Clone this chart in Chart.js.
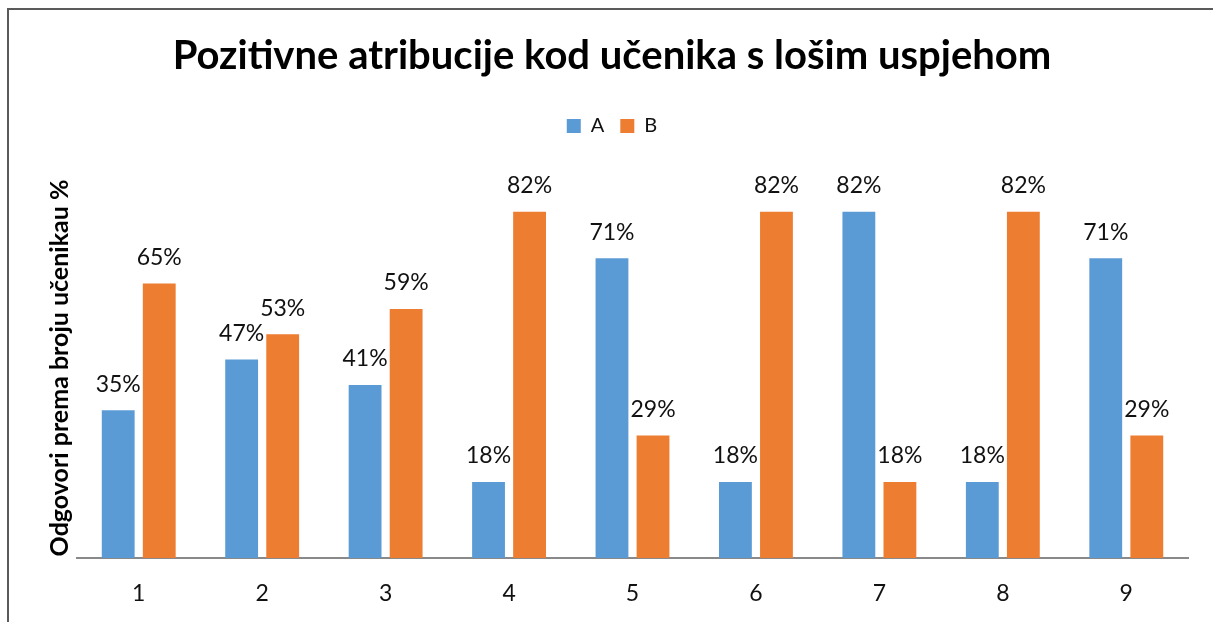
<!DOCTYPE html>
<html>
<head>
<meta charset="utf-8">
<script src="https://cdn.jsdelivr.net/npm/chart.js@4.4.1/dist/chart.umd.min.js"></script>
<style>
  html, body { margin: 0; padding: 0; background: #fff; overflow: hidden; }
  #wrap { position: absolute; left: 0; top: 0; width: 1213px; height: 622px; }
  #frame { position: absolute; left: 7px; top: 8px; width: 1300px; height: 700px; border: 2px solid #5a5a5a; box-sizing: border-box; pointer-events: none; }
</style>
</head>
<body>
<div id="wrap"><canvas id="chart" width="1213" height="622"></canvas></div>
<div id="frame"></div>
<script>
// data
const categories = ['1', '2', '3', '4', '5', '6', '7', '8', '9'];
const seriesA = [35, 47, 41, 18, 71, 18, 82, 18, 71];
const seriesB = [65, 53, 59, 82, 29, 82, 18, 82, 29];
const seriesNames = ['A', 'B'];

const FONT = 'Lato, "Open Sans", sans-serif';

// value labels above the bars
const barLabels = {
    id: 'barLabels',
    afterDatasetsDraw(chart) {
        const ctx = chart.ctx;
        ctx.save();
        ctx.font = '23px ' + FONT;
        ctx.fillStyle = '#111';
        ctx.textAlign = 'center';
        ctx.textBaseline = 'middle';
        chart.data.datasets.forEach((ds, i) => {
            chart.getDatasetMeta(i).data.forEach((bar, j) => {
                ctx.fillText(ds.data[j] + '%', bar.x, bar.y - 26);
            });
        });
        ctx.restore();
    }
};

// extra space between the legend and the plot
const legendGap = {
    id: 'legendGap',
    beforeLayout(chart) {
        const legend = chart.legend;
        if (legend && !legend._gapPatched) {
            const fit = legend.fit;
            legend.fit = function () {
                fit.call(this);
                this.height += 32;
            };
            legend._gapPatched = true;
        }
    }
};

new Chart(document.getElementById('chart').getContext('2d'), {
    type: 'bar',
    data: {
        labels: categories,
        datasets: [{
            label: seriesNames[0],
            data: seriesA,
            backgroundColor: '#5B9BD5',
            barPercentage: 0.8,
            categoryPercentage: 0.665
        }, {
            label: seriesNames[1],
            data: seriesB,
            backgroundColor: '#ED7D31',
            barPercentage: 0.8,
            categoryPercentage: 0.665
        }]
    },
    options: {
        responsive: false,
        animation: false,
        layout: { padding: { top: 10, right: 25, bottom: 0, left: 36 } },
        plugins: {
            title: {
                display: true,
                text: 'Pozitivne atribucije kod učenika s lošim uspjehom',
                color: '#000',
                font: { family: FONT, size: 40, weight: 'bold' },
                padding: { top: 22, bottom: 20 }
            },
            legend: {
                display: true,
                position: 'top',
                labels: {
                    color: '#111',
                    font: { family: FONT, size: 20 },
                    boxWidth: 14,
                    boxHeight: 14,
                    padding: 16
                }
            },
            tooltip: { enabled: false }
        },
        scales: {
            x: {
                grid: { display: false },
                border: { display: true, color: '#898989', width: 2 },
                ticks: { color: '#111', font: { family: FONT, size: 23 }, padding: 14 },
                afterFit: (scale) => { scale.height = 64; }
            },
            y: {
                min: 0,
                max: 90,
                grid: { display: false },
                border: { display: false },
                ticks: { display: false },
                title: {
                    display: true,
                    text: 'Odgovori prema broju učenikau %',
                    color: '#000',
                    font: { family: FONT, size: 25, weight: 'bold' },
                    padding: { top: 9, bottom: 0 }
                },
                afterFit: (scale) => { scale.width = 41; }
            }
        }
    },
    plugins: [barLabels, legendGap]
});
</script>
</body>
</html>
